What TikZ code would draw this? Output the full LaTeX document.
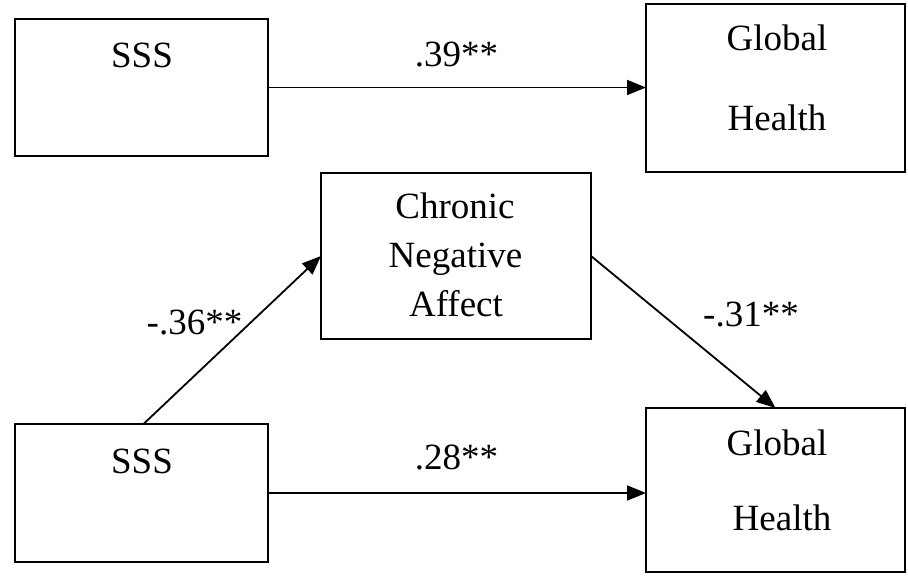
\documentclass[tikz,border=0pt]{standalone}
\usepackage{fontspec}
\setmainfont{Liberation Serif}
\usetikzlibrary{arrows.meta}
\begin{document}
\begin{tikzpicture}[x=1pt,y=-1pt,
  box/.style={draw=black,line width=2pt,inner sep=0pt,outer sep=0pt,rectangle},
  txt/.style={anchor=base,inner sep=0pt,font=\fontsize{37}{44}\selectfont},
  conn/.style={line width=1.8pt,-{Triangle[length=19pt,width=15pt]}}]
\useasboundingbox (0,0) rectangle (908,577);
\node[box,minimum width=253pt,minimum height=137pt] (tl) at (141.5,87.5) {};
\node[box,minimum width=259pt,minimum height=168pt] (tr) at (775.5,88) {};
\node[box,minimum width=270pt,minimum height=166pt] (mid) at (456,256) {};
\node[box,minimum width=253pt,minimum height=138pt] (bl) at (141.5,493) {};
\node[box,minimum width=259pt,minimum height=164pt] (br) at (775.5,490) {};
% texts
\node[txt] (tlt) at (142,68) {SSS};
\node[txt] (trg) at (777,51) {Global};
\node[txt] (trh) at (777,131) {Health};
\node[txt] (m1) at (455,219) {Chronic};
\node[txt] (m2) at (455.5,268) {Negative};
\node[txt] (m3) at (456,317) {Affect};
\node[txt] (blt) at (142,473) {SSS};
\node[txt] (brg) at (777,455) {Global};
\node[txt] (brh) at (782,530) {Health};
% labels
\node[txt] (l1) at (456.5,67) {.39**};
\node[txt] (l2) at (456.5,469) {.28**};
\node[txt] (l3) at (751,327) {-.31**};
\node[txt] (l4) at (194.5,335) {-.36**};
% connectors
\draw[conn] (tl.east) -- (tl.east -| tr.west);
\draw[conn] (bl.east) -- (bl.east -| br.west);
\draw[conn] ([xshift=2pt]bl.north) -- (mid.west);
\draw[conn] (mid.east) -- (br.north);
\end{tikzpicture}
\end{document}
